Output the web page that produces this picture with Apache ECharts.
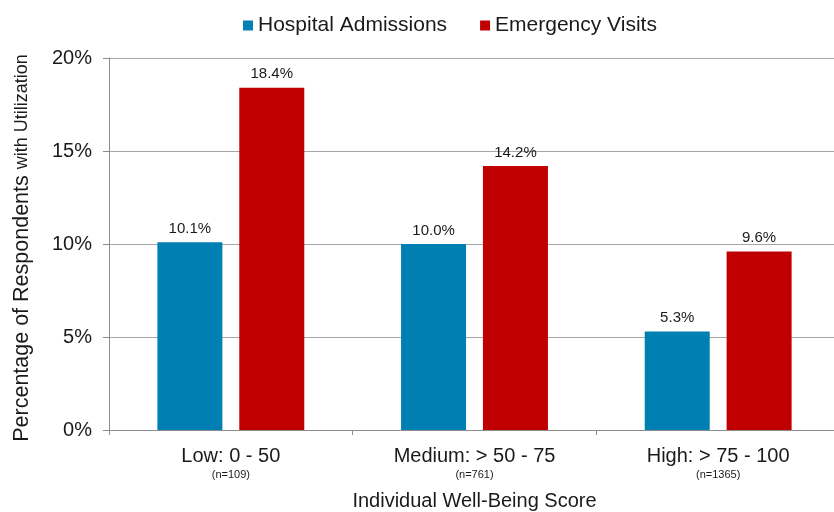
<!DOCTYPE html>
<html>
<head>
<meta charset="utf-8">
<script src="https://cdn.jsdelivr.net/npm/echarts@6/dist/echarts.min.js"></script>
<style>
  html, body { margin: 0; padding: 0; background: #fff; }
  #chart { width: 834px; height: 512px; }
</style>
</head>
<body>
<div id="chart"></div>
<script>
// Well-being score groups and their sample sizes
const categories = ['Low: 0 - 50', 'Medium: > 50 - 75', 'High: > 75 - 100'];
const sampleSizes = [109, 761, 1365];

// Share of respondents (%) with each kind of utilization
const hospitalAdmissions = [10.1, 10.0, 5.3];
const emergencyVisits = [18.4, 14.2, 9.6];

// Y-axis ticks (%)
const yTicks = [0, 5, 10, 15, 20];

const FONT = "'Liberation Sans', Arial, sans-serif";
const TEXT = '#1a1a1a';

const chart = echarts.init(document.getElementById('chart'), null, { renderer: 'canvas' });

const labelStyle = {
  show: true,
  position: 'top',
  distance: 6,
  fontFamily: FONT,
  fontSize: 15,
  color: TEXT,
  formatter: p => p.value.toFixed(1) + '%'
};

chart.setOption({
  animation: false,
  textStyle: { fontFamily: FONT, color: TEXT },
  legend: {
    top: 10,
    left: 238,
    icon: 'rect',
    itemWidth: 10,
    itemHeight: 10,
    itemGap: 33,
    textStyle: { fontFamily: FONT, fontSize: 21, color: TEXT },
    data: ['Hospital Admissions', 'Emergency Visits']
  },
  grid: {
    left: 109, right: -6, top: 58, bottom: 82,
    containLabel: false,
    outerBoundsMode: 'none'
  },
  xAxis: {
    type: 'category',
    data: categories,
    name: 'Individual Well-Being Score',
    nameLocation: 'middle',
    nameGap: 61,
    nameTextStyle: { fontFamily: FONT, fontSize: 20, color: TEXT },
    axisLine: { lineStyle: { color: '#8c8c8c', width: 1 } },
    axisTick: { show: true, length: 5, lineStyle: { color: '#8c8c8c' } },
    axisLabel: {
      margin: 15,
      formatter: (v, i) => '{a|' + v + '}\n{b|(n=' + sampleSizes[i] + ')}',
      rich: {
        a: { fontFamily: FONT, fontSize: 20, color: TEXT, lineHeight: 22 },
        b: { fontFamily: FONT, fontSize: 11, color: TEXT, lineHeight: 15 }
      }
    }
  },
  yAxis: {
    type: 'value',
    min: yTicks[0],
    max: yTicks[yTicks.length - 1],
    interval: yTicks[1] - yTicks[0],
    name: '{a|Percentage of Respondents }{b|with Utilization}',
    nameLocation: 'middle',
    nameGap: 76,
    nameTextStyle: {
      padding: [0, 8, 0, 0],
      rich: {
        a: { fontFamily: FONT, fontSize: 21.5, color: TEXT },
        b: { fontFamily: FONT, fontSize: 18, color: TEXT }
      }
    },
    axisLine: { show: true, lineStyle: { color: '#8c8c8c', width: 1 } },
    axisTick: { show: true, length: 6, lineStyle: { color: '#8c8c8c' } },
    axisLabel: {
      margin: 17,
      fontFamily: FONT,
      fontSize: 20,
      color: TEXT,
      formatter: v => v + '%'
    },
    splitLine: { show: true, lineStyle: { color: '#a6a6a6', width: 1 } }
  },
  series: [
    {
      name: 'Hospital Admissions',
      type: 'bar',
      data: hospitalAdmissions,
      barWidth: 65,
      barGap: '26%',
      itemStyle: { color: '#0080B2' },
      label: labelStyle
    },
    {
      name: 'Emergency Visits',
      type: 'bar',
      data: emergencyVisits,
      barWidth: 65,
      barGap: '26%',
      itemStyle: { color: '#C00000' },
      label: labelStyle
    }
  ]
});
</script>
</body>
</html>
